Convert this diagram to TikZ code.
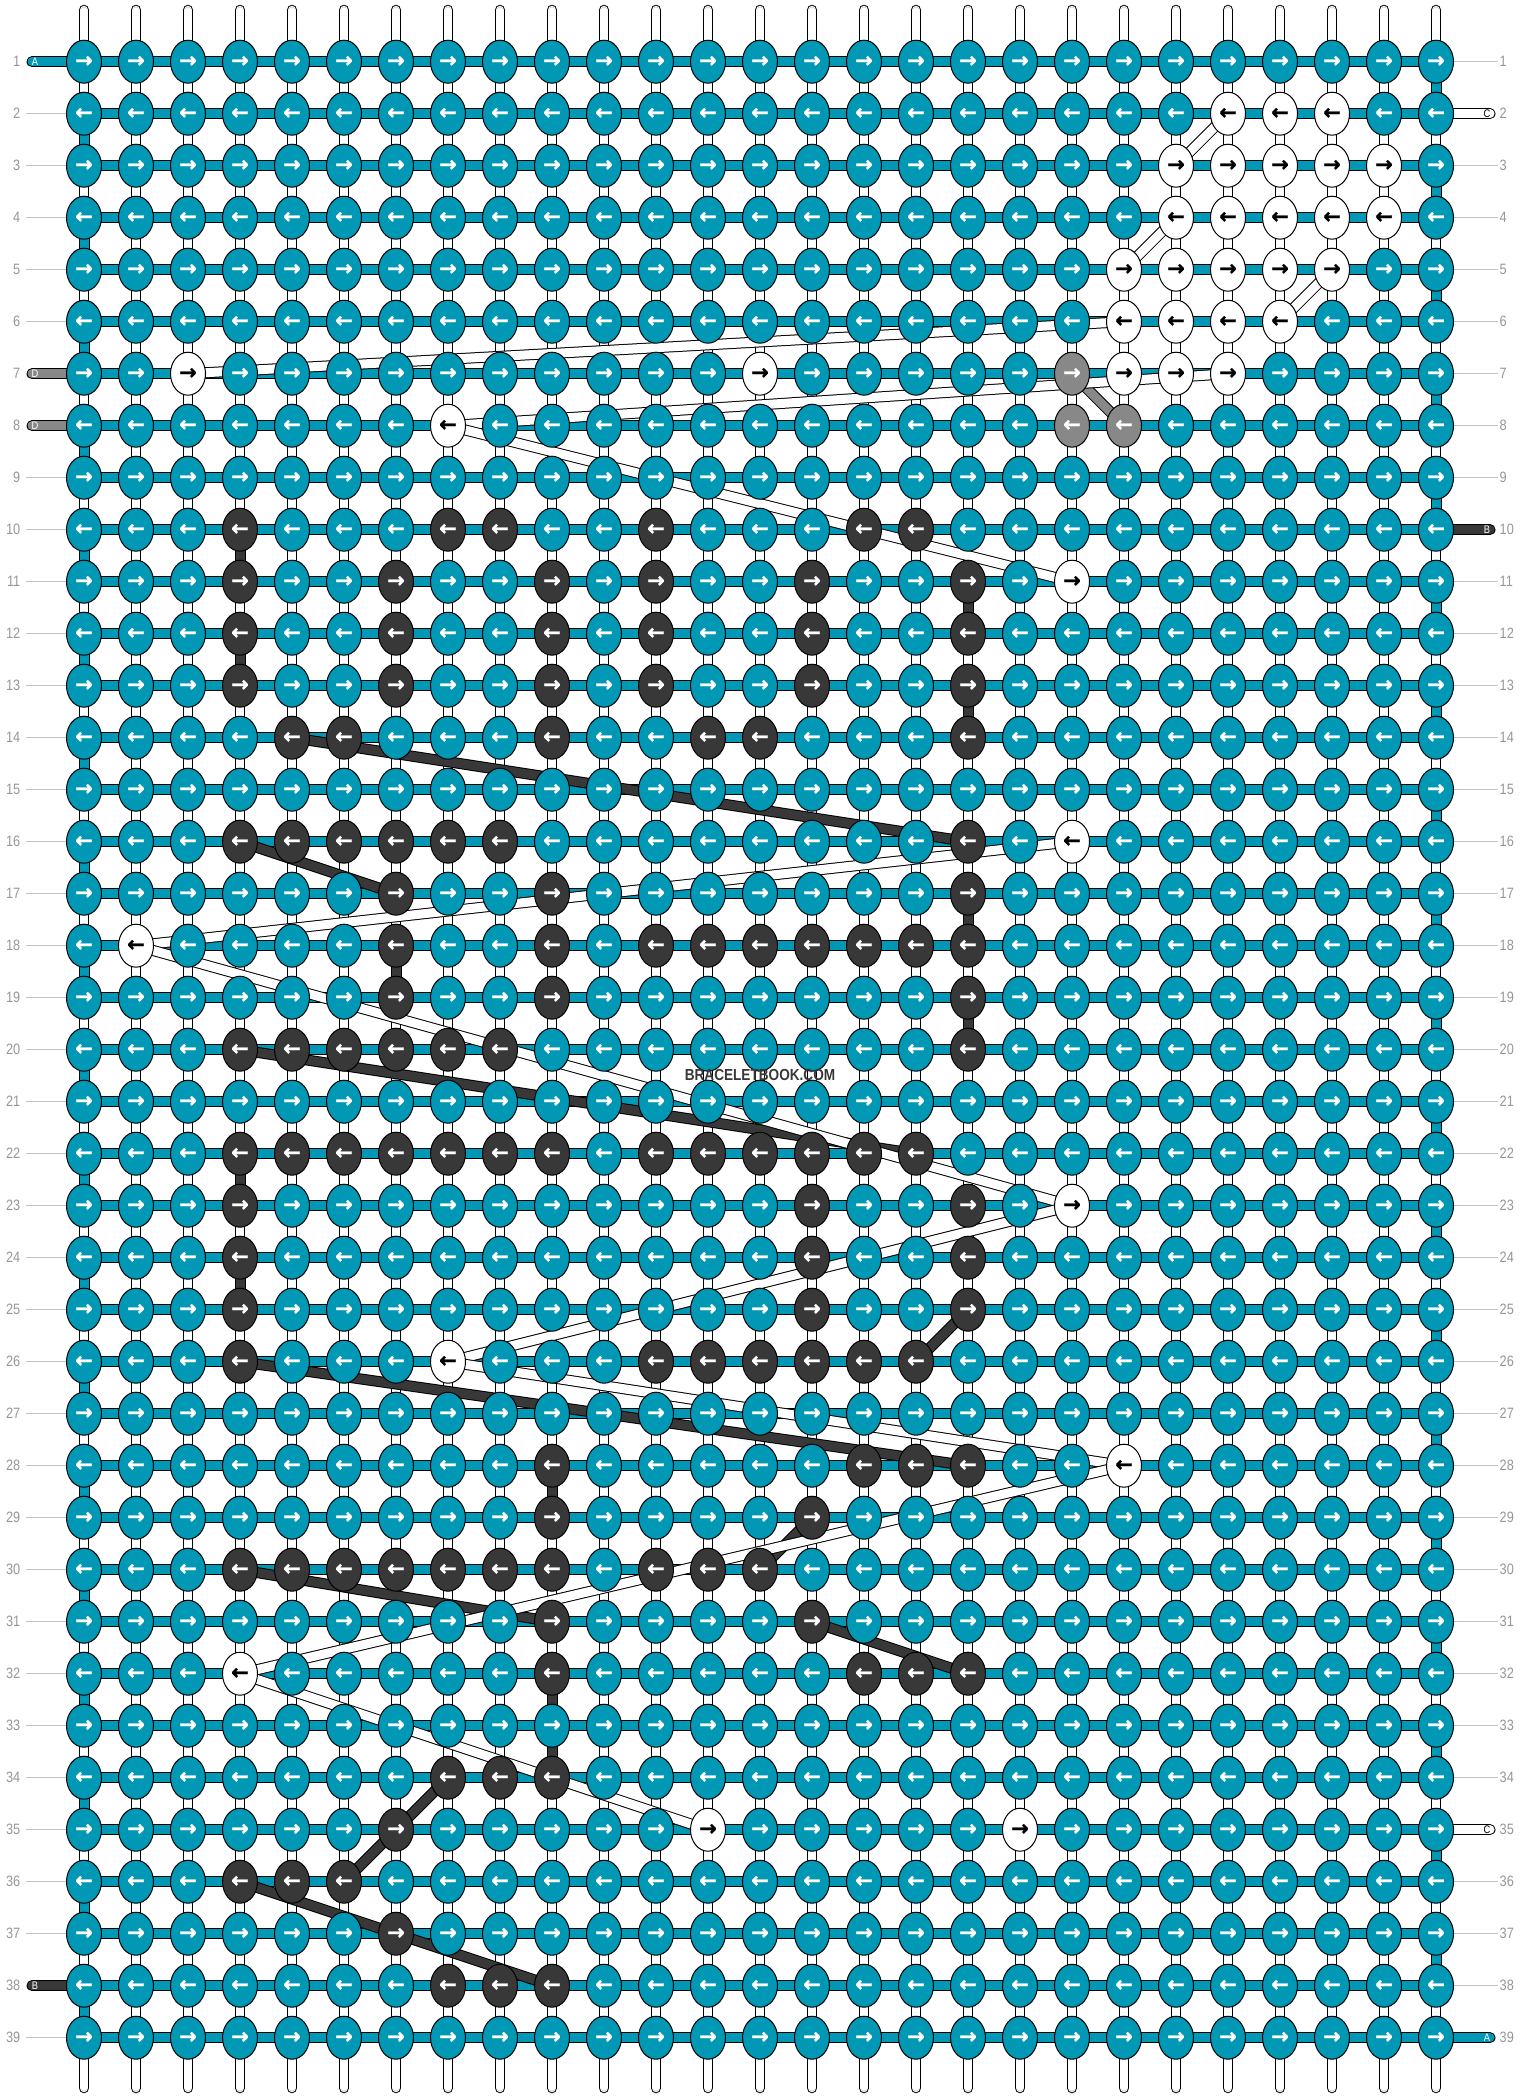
\documentclass[tikz,border=0pt]{standalone}
\usepackage{fontspec}
\setmainfont{Liberation Sans}
\newfontfamily\arrowfont{DejaVu Sans}[BoldFeatures={FakeBold=1.3}]
\newfontfamily\numfont[FakeStretch=0.85]{Liberation Sans}
\usetikzlibrary{shapes.geometric,positioning}

\definecolor{threadA}{RGB}{0,152,180}
\definecolor{threadB}{RGB}{56,56,56}
\definecolor{threadC}{RGB}{255,255,255}
\definecolor{threadD}{RGB}{136,136,136}
\colorlet{arrowA}{white}
\colorlet{arrowB}{white}
\colorlet{arrowC}{black}
\colorlet{arrowD}{white}
\definecolor{rowgray}{RGB}{150,150,150}
\definecolor{linegray}{RGB}{195,195,195}
\definecolor{tubegray}{RGB}{200,200,200}

\pgfdeclarelayer{tubes}
\pgfdeclarelayer{threads}
\pgfsetlayers{tubes,threads,main}

\begin{document}
\begin{tikzpicture}[x=1pt,y=-1pt,
    knot/.style={ellipse,draw=black,line width=1pt,minimum width=35pt,minimum height=43pt,
                 inner sep=0pt,font=\arrowfont\bfseries\fontsize{21}{21}\selectfont},
    band/.style={draw=black,line width=1pt,double distance=9pt},
    bandA/.style={band,double=threadA},
    bandB/.style={band,double=threadB},
    bandC/.style={band,double=threadC},
    bandD/.style={band,double=threadD},
    passive/.style={draw=black,line width=1pt,double=white,double distance=8.5pt,line cap=round},
    passivein/.style={draw=tubegray,line width=0.8pt,double=white,double distance=5.2pt,line cap=round},
    rowlbl/.style={text=rowgray,inner sep=0pt,font=\numfont\fontsize{15}{15}\selectfont},
    rowline/.style={draw=linegray,line width=1pt},
    tag/.style={inner sep=0pt,font=\numfont\fontsize{11}{11}\selectfont}]

\useasboundingbox (0,0) rectangle (1520,2100);

% knots not tied with A
\foreach \r/\cols in {10/{4,8,9,12,16,17}, 11/{4,7,10,12,15,18}, 12/{4,7,10,12,15,18},
    13/{4,7,10,12,15,18}, 14/{5,6,10,13,14,18}, 16/{4,...,9,18}, 17/{7,10,18},
    18/{7,10,12,13,14,15,16,17,18}, 19/{7,10,18}, 20/{4,...,9,18},
    22/{4,...,10,12,13,14,15,16,17}, 23/{4,15,18}, 24/{4,15,18}, 25/{4,15,18},
    26/{4,12,13,14,15,16,17}, 28/{10,16,17,18}, 29/{10,15}, 30/{4,...,10,12,13,14},
    31/{10,15}, 32/{10,16,17,18}, 34/{8,9,10}, 35/{7}, 36/{4,5,6}, 37/{7}, 38/{8,9,10}}
  \foreach \c in \cols {\expandafter\xdef\csname kc-\r-\c\endcsname{B}};
\foreach \r/\cols in {2/{23,24,25}, 3/{22,...,26}, 4/{22,...,26}, 5/{21,...,25}, 6/{21,...,24},
    7/{3,14,21,22,23}, 8/{8}, 11/{20}, 16/{20}, 18/{2}, 23/{20}, 26/{8}, 28/{21}, 32/{4}, 35/{13,19}}
  \foreach \c in \cols {\expandafter\xdef\csname kc-\r-\c\endcsname{C}};
\foreach \r/\cols in {7/{20}, 8/{20,21}}
  \foreach \c in \cols {\expandafter\xdef\csname kc-\r-\c\endcsname{D}};

\foreach \r in {1,...,39}
  \foreach \c in {1,...,27}{
    \ifcsname kc-\r-\c\endcsname \edef\kt{\csname kc-\r-\c\endcsname}\else \def\kt{A}\fi
    \node[knot,fill=thread\kt,text=arrow\kt] (k-\r-\c) at ({84+52*(\c-1)},{61.7+52*(\r-1)})
      {\ifodd\r →\else ←\fi};
  }

\foreach \r in {1,...,39}{
  \node[rowlbl,left=45.5pt of k-\r-1] (ll-\r) {\r};
  \node[rowlbl,right=45.5pt of k-\r-27] (rl-\r) {\r};
}

\coordinate (endA1) at (32,61.7);
\coordinate (endD7) at (32,373.7);
\coordinate (endD8) at (32,425.7);
\coordinate (endB38) at (32,1985.7);
\coordinate (endC2) at (1490,113.7);
\coordinate (endB10) at (1490,529.7);
\coordinate (endC35) at (1490,1829.7);
\coordinate (endA39) at (1490,2037.7);

\begin{pgfonlayer}{tubes}
  \foreach \c in {1,...,27}{
    \coordinate (top-\c) at ({84+52*(\c-1)},10);
    \coordinate (bot-\c) at ({84+52*(\c-1)},2088);
    \draw[passive] (top-\c) -- (bot-\c);
    \draw[passivein] (top-\c) -- (bot-\c);
  }
  \foreach \r in {2,3,4,5,6,9,10,...,37,39}
    \draw[rowline] ([xshift=5pt]ll-\r.east) -- (k-\r-1);
  \foreach \r in {1,3,4,5,6,7,8,9,11,12,...,34,36,37,38}
    \draw[rowline] (k-\r-27) -- ([xshift=-2pt]rl-\r.west);
  \foreach \r in {1,...,39}
    \draw[bandA] (k-\r-1.center) -- (k-\r-27.center);
  \foreach \r [evaluate=\r as \s using int(\r+1)] in {2,4,...,38}
    \draw[bandA] (k-\r-1.center) -- (k-\s-1.center);
  \foreach \r [evaluate=\r as \s using int(\r+1)] in {1,3,...,37}
    \draw[bandA] (k-\r-27.center) -- (k-\s-27.center);
\end{pgfonlayer}

\begin{pgfonlayer}{threads}
  \foreach \e/\k/\t in {endA1/k-1-1/A, endD7/k-7-1/D, endD8/k-8-1/D, endB38/k-38-1/B,
      endC2/k-2-27/C, endB10/k-10-27/B, endC35/k-35-27/C, endA39/k-39-27/A}
    \draw[band,double=thread\t,line cap=round] (\e) -- (\k.center);

  \foreach \from/\to in {k-10-4/k-11-4, k-11-18/k-12-18, k-12-4/k-13-4, k-13-18/k-14-18,
      k-14-5/k-16-18, k-16-4/k-17-7, k-17-18/k-18-18, k-18-7/k-19-7, k-19-18/k-20-18,
      k-20-4/k-22-17, k-22-4/k-23-4, k-23-18/k-24-18, k-24-4/k-25-4, k-25-18/k-26-17,
      k-26-4/k-28-18, k-28-10/k-29-10, k-29-15/k-30-14, k-30-4/k-31-10, k-31-15/k-32-18,
      k-32-10/k-34-10, k-34-8/k-35-7, k-35-7/k-36-6, k-36-4/k-37-7, k-37-7/k-38-10}
    \draw[bandB] (\from.center) -- (\to.center);

  \draw[bandD] (k-7-20.center) -- (k-8-21.center);

  \foreach \from/\to in {k-2-23/k-3-22, k-4-22/k-5-21, k-5-25/k-6-24, k-6-21/k-7-3,
      k-7-23/k-8-8, k-8-8/k-11-20, k-16-20/k-18-2, k-18-2/k-23-20, k-23-20/k-26-8,
      k-26-8/k-28-21, k-28-21/k-32-4, k-32-4/k-35-13}
    \draw[bandC] (\from.center) -- (\to.center);
\end{pgfonlayer}

\foreach \e/\t in {endA1/A, endD7/D, endD8/D, endB38/B}
  \node[tag,text=arrow\t] at ([xshift=3pt]\e) {\t};
\foreach \e/\t in {endC2/C, endB10/B, endC35/C, endA39/A}
  \node[tag,text=arrow\t] at ([xshift=-3pt]\e) {\t};

\node[font=\numfont\bfseries\fontsize{16}{16}\selectfont,text=threadB,inner sep=0pt] (wm)
  at (760,1075) {BRACELETBOOK.COM};

\end{tikzpicture}
\end{document}
